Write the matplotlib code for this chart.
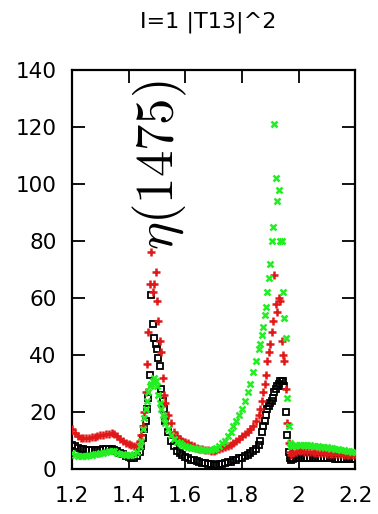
import matplotlib
matplotlib.use("Agg")
import matplotlib.pyplot as plt

# ---- DATA ----
energy = [
    1.20, 1.21, 1.22, 1.23, 1.24, 1.25, 1.26, 1.27, 1.28, 1.29, 1.30, 1.31, 1.32,
    1.33, 1.34, 1.35, 1.36, 1.37, 1.38, 1.39, 1.40, 1.41, 1.42, 1.43, 1.44,
    1.445, 1.45, 1.455, 1.46, 1.465, 1.47, 1.475, 1.48, 1.485, 1.49, 1.495, 1.50,
    1.505, 1.51, 1.515, 1.52, 1.525, 1.53,
    1.54, 1.55, 1.56, 1.57, 1.58, 1.59, 1.60, 1.61, 1.62, 1.63, 1.64, 1.65, 1.66,
    1.67, 1.68, 1.69, 1.70, 1.71, 1.72, 1.73, 1.74, 1.75, 1.76, 1.77, 1.78, 1.79,
    1.80, 1.81, 1.82, 1.83, 1.84, 1.85, 1.86,
    1.865, 1.87, 1.875, 1.88, 1.885, 1.89, 1.895, 1.90, 1.905, 1.91, 1.915, 1.92,
    1.925, 1.93, 1.935, 1.94, 1.945, 1.95, 1.955, 1.96, 1.965, 1.97, 1.975,
    1.98, 1.99, 2.00, 2.01, 2.02, 2.03, 2.04, 2.05, 2.06, 2.07, 2.08, 2.09, 2.10,
    2.11, 2.12, 2.13, 2.14, 2.15, 2.16, 2.17, 2.18, 2.19, 2.20,
]

black = [
    8.5, 8, 7.5, 7.2, 7, 6.8, 6.7, 6.6, 6.6, 6.7, 6.8, 6.9, 7, 7, 6.9, 6.7, 6.3, 5.8,
    5.2, 4.6, 4.2, 4, 4, 4.5, 6,
    8, 11, 14, 17, 21, 25, 33, 61, 51, 46, 44, 42, 39, 36, 28, 24, 21, 17,
    13, 10, 8, 6.5, 5.5, 4.8, 4.2, 3.7, 3.3, 3, 2.7, 2.5, 2.2, 2, 1.8, 1.6, 1.5, 1.5,
    1.6, 1.8, 2, 2.3, 2.6, 3, 3.3, 3.7, 4, 4.6, 5, 5.6, 6.2, 7.2, 8.5,
    10, 13, 15, 17, 19, 21, 22, 23, 24, 25, 27, 28, 29, 30, 31, 31, 31, 29, 20, 12,
    6, 4, 3.2,
    3.5, 3.8, 4, 4, 4, 4, 3.9, 3.9, 3.9, 3.8, 3.8, 3.8, 3.7, 3.7, 3.7, 3.6, 3.6, 3.6,
    3.5, 3.5, 3.5, 3.4, 3.4,
]

red = [
    14, 12.5, 11.5, 11, 10.8, 10.8, 11, 11.2, 11.4, 11.6, 11.8, 12, 12.2, 12.4, 12.5,
    12.2, 11.5, 10.5, 9.8, 9.2, 8.7, 8.3, 8, 8.5, 10,
    12, 15, 20, 27, 37, 48, 65, 76, 62, 65, 69, 59, 52, 45, 41, 32, 26, 23,
    19, 16, 13, 11.5, 10.5, 10, 9.5, 9, 8.5, 8, 7.5, 7.2, 7, 6.8, 6.6, 6.5, 6.5, 6.8,
    7, 7.3, 7.6, 8, 8.5, 9.2, 10, 10.7, 11.5, 12.2, 13, 14, 15, 17, 19,
    21, 24, 27, 30, 33, 38, 41, 44, 48, 52, 68, 58, 55, 60, 59, 45, 40, 38, 28, 16,
    9, 6, 5,
    5.5, 6, 6.2, 6.2, 6.1, 6, 6, 5.9, 5.8, 5.7, 5.6, 5.5, 5.4, 5.3, 5.3, 5.2, 5.1,
    5.1, 5, 5, 4.9, 4.9, 4.8,
]

green = [
    5.5, 5, 4.7, 4.5, 4.5, 4.6, 4.8, 5, 5.2, 5.4, 5.6, 5.8, 6, 6.2, 6.3, 6.2, 5.8, 5.4,
    5.1, 4.9, 4.8, 4.9, 5.2, 6, 8,
    10, 14, 18, 21, 24, 27, 29, 30, 31, 32, 31, 29, 26, 23, 21, 19, 18, 16,
    14, 12, 10.5, 9.5, 9, 8.5, 8, 7.8, 7.5, 7.3, 7, 6.9, 6.8, 6.7, 6.7, 6.8, 7, 7.4,
    8, 9, 10, 11.5, 13, 15, 17, 19, 21, 24, 27, 30, 34, 38, 42,
    44, 47, 50, 54, 57, 62, 67, 72, 80, 85, 121, 102, 94, 98, 80, 80, 62, 53, 46, 25,
    15, 9, 8,
    8, 8.5, 8.6, 8.6, 8.5, 8.4, 8.3, 8.2, 8.1, 8, 7.9, 7.8, 7.6, 7.5, 7.3, 7.1, 7,
    6.8, 6.6, 6.4, 6.3, 6.1, 6,
]

xticks = [1.2, 1.4, 1.6, 1.8, 2.0, 2.2]
xticklabels = ["1.2", "1.4", "1.6", "1.8", "2", "2.2"]
yticks = [0, 20, 40, 60, 80, 100, 120, 140]

title = "I=1 |T13|^2"
label = r"$\eta(1475)$"

# ---- PLOT ----
plt.rcParams["font.family"] = ["DejaVu Sans"]
plt.rcParams["mathtext.fontset"] = "cm"

fig = plt.figure(figsize=(3.78, 5.14), dpi=100)
ax = fig.add_axes([0.1905, 0.0875, 0.749, 0.776])

ax.plot(energy, black, linestyle="none", marker="s", markersize=3.8,
        markerfacecolor="none", markeredgecolor="black", markeredgewidth=1.3, zorder=2)
ax.plot(energy, red, linestyle="none", marker="+", markersize=5.2,
        color="#e01818", markeredgewidth=1.8, zorder=3)
ax.plot(energy, green, linestyle="none", marker="x", markersize=4.4,
        color="#22ee22", markeredgewidth=1.8, zorder=4)

ax.text(1.512, 106.5, label, rotation=90, ha="center", va="center",
        fontsize=38, color="black")

ax.set_xlim(1.2, 2.2)
ax.set_ylim(0, 140)
ax.set_xticks(xticks)
ax.set_xticklabels(xticklabels)
ax.set_yticks(yticks)
ax.tick_params(direction="in", length=9.5, width=1.3, top=True, right=True,
               labelsize=15.5)
ax.tick_params(axis="y", pad=11)
ax.tick_params(axis="x", pad=12)
for s in ax.spines.values():
    s.set_linewidth(1.6)

fig.text(0.55, 0.957, title, ha="center", va="center", fontsize=16)

fig.savefig("out.png", dpi=100)
